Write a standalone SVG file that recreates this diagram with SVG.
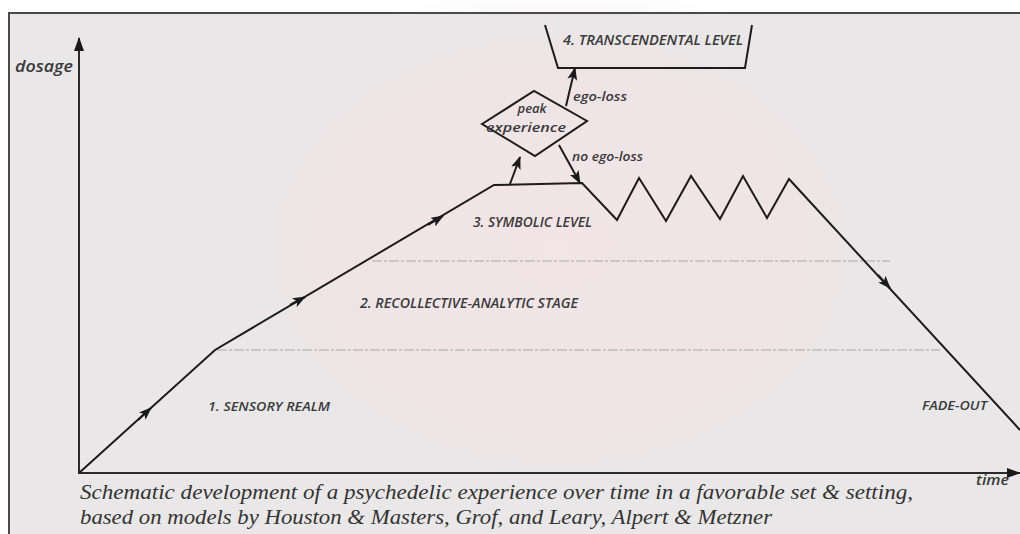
<svg xmlns="http://www.w3.org/2000/svg" width="1020" height="534" viewBox="0 0 1020 534">
  <defs>
    <radialGradient id="wm" cx="0.5" cy="0.5" r="0.5">
      <stop offset="0" stop-color="#f4e4e6" stop-opacity="0.9"/>
      <stop offset="0.7" stop-color="#f1e3e5" stop-opacity="0.6"/>
      <stop offset="1" stop-color="#e9e7e8" stop-opacity="0"/>
    </radialGradient>
    <marker id="ah" viewBox="0 0 13 10" refX="12" refY="5" markerWidth="13" markerHeight="10" markerUnits="userSpaceOnUse" orient="auto">
      <path d="M0,0 L13,5 L0,10 L3,5 Z" fill="#1a1a1a"/>
    </marker>
    <marker id="axh" viewBox="0 0 14 10" refX="13" refY="5" markerWidth="14" markerHeight="10" markerUnits="userSpaceOnUse" orient="auto">
      <path d="M0,0 L14,5 L0,10 Z" fill="#1a1a1a"/>
    </marker>
    <style>
      .ln { fill: none; stroke: #1c1c1c; stroke-width: 2; stroke-linejoin: miter; }
      .ax { fill: none; stroke: #2a2a2a; stroke-width: 2; }
      .dash { fill: none; stroke: #a9a7a8; stroke-width: 1.2; stroke-dasharray: 10 2 3 2; }
      .lbl { font-family: "Open Sans", "Liberation Sans", sans-serif; font-style: italic; font-weight: 600; fill: #3a3a3a; }
      .cap { font-family: "Liberation Serif", "DejaVu Serif", serif; font-style: italic; fill: #333333; font-size: 22px; }
    </style>
  </defs>

  <rect width="1020" height="534" fill="#ffffff"/>
  <rect x="9" y="13" width="1011" height="521" fill="#e9e7e8"/>
  <ellipse cx="560" cy="250" rx="360" ry="270" fill="url(#wm)"/>
  <path d="M9,534 L9,13 L1020,13" fill="none" stroke="#4a4a4a" stroke-width="2"/>

  <g id="axes">
    <line class="ax" x1="79" y1="474" x2="79" y2="38" marker-end="url(#axh)"/>
    <line class="ax" x1="78" y1="473" x2="1020" y2="473" marker-end="url(#axh)"/>
    <text class="lbl" x="15" y="72" font-size="16" textLength="58" lengthAdjust="spacingAndGlyphs">dosage</text>
    <text class="lbl" x="976" y="485" font-size="15" textLength="33" lengthAdjust="spacingAndGlyphs">time</text>
  </g>

  <g id="levels">
    <line class="dash" x1="217" y1="350" x2="940" y2="350"/>
    <line class="dash" x1="372" y1="261" x2="890" y2="261"/>
    <text class="lbl" x="208" y="411" font-size="13" textLength="122" lengthAdjust="spacingAndGlyphs">1. SENSORY REALM</text>
    <text class="lbl" x="360" y="308" font-size="14" textLength="218" lengthAdjust="spacingAndGlyphs">2. RECOLLECTIVE-ANALYTIC STAGE</text>
    <text class="lbl" x="473" y="227" font-size="14" textLength="119" lengthAdjust="spacingAndGlyphs">3. SYMBOLIC LEVEL</text>
    <text class="lbl" x="922" y="410" font-size="13" textLength="65" lengthAdjust="spacingAndGlyphs">FADE-OUT</text>
  </g>

  <g id="transcendental">
    <polyline class="ln" points="545,25 558,68 745,68 752,25"/>
    <text class="lbl" x="563" y="45" font-size="14" textLength="180" lengthAdjust="spacingAndGlyphs">4. TRANSCENDENTAL LEVEL</text>
  </g>

  <g id="peak">
    <polygon class="ln" points="482,124 534,91 587,121 535,156"/>
    <text class="lbl" x="532" y="113" font-size="13" text-anchor="middle" textLength="29" lengthAdjust="spacingAndGlyphs">peak</text>
    <text class="lbl" x="526" y="132" font-size="13" text-anchor="middle" textLength="80" lengthAdjust="spacingAndGlyphs">experience</text>
  </g>

  <g id="connectors">
    <polyline class="ln" points="79,473 215,350 494,185 582,183 617,220 639,178 666,221 691,176 720,219 743,176 767,218 789,179 1020,430"/>
    <path class="ln" d="M138,420 L151,408" marker-end="url(#ah)"/>
    <path class="ln" d="M290,305 L305,297" marker-end="url(#ah)"/>
    <path class="ln" d="M428,225 L443,216" marker-end="url(#ah)"/>
    <path class="ln" d="M878,275 L890,288" marker-end="url(#ah)"/>
    <path class="ln" d="M510,184 L520,157" marker-end="url(#ah)"/>
    <path class="ln" d="M559,145 L580,183" marker-end="url(#ah)"/>
    <path class="ln" d="M566,106 L575,68" marker-end="url(#ah)"/>
    <text class="lbl" x="573" y="101" font-size="13" textLength="54" lengthAdjust="spacingAndGlyphs">ego-loss</text>
    <text class="lbl" x="572" y="161" font-size="13" textLength="71" lengthAdjust="spacingAndGlyphs">no ego-loss</text>
  </g>

  <g id="caption">
    <text class="cap" x="80" y="499" textLength="833" lengthAdjust="spacingAndGlyphs">Schematic development of a psychedelic experience over time in a favorable set &amp; setting,</text>
    <text class="cap" x="80" y="524" textLength="692" lengthAdjust="spacingAndGlyphs">based on models by Houston &amp; Masters, Grof, and Leary, Alpert &amp; Metzner</text>
  </g>
</svg>
